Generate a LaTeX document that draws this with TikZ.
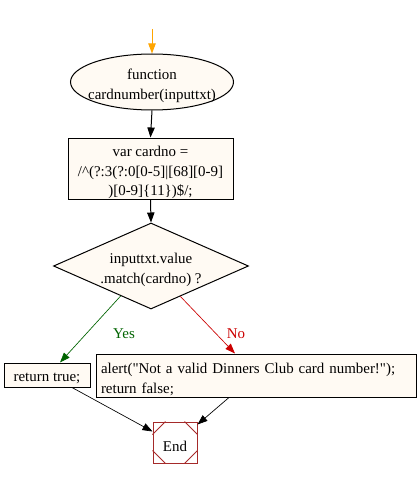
\documentclass[tikz,border=0pt]{standalone}
\usepackage{fontspec}
\setmainfont{Liberation Serif}[Ligatures=TeXOff]
\usetikzlibrary{shapes.geometric,arrows.meta,calc}
\definecolor{cream}{HTML}{FFFAF3}
\definecolor{endbrown}{HTML}{A52A2A}
\definecolor{yesgreen}{HTML}{006400}
\definecolor{nored}{HTML}{CC0000}
\definecolor{startorange}{HTML}{FFA500}
\newcommand{\pxl}[1]{#1*0.75pt}
\begin{document}
\begin{tikzpicture}[x=0.75pt,y=-0.75pt,
  every node/.style={font=\fontsize{11.2pt}{14.6pt}\selectfont, inner sep=0pt},
  basebox/.style={draw, fill=cream, line width=0.75pt},
  flow/.style={line width=0.75pt, -{Triangle[length=7.5pt,width=5.5pt]}},
  lbl/.style={font=\fontsize{11.2pt}{13pt}\selectfont}
]
\useasboundingbox (0,0) rectangle (417,478);
\fill[white] (0,0) rectangle (417,478);

\coordinate (start) at (152,29);
\node[basebox, ellipse, minimum width=\pxl{163}, minimum height=\pxl{56}] (func) at (152,82) {};
\node[align=center] (functext) at (152,86) {function\\cardnumber(inputtxt)};
\node[basebox, rectangle, minimum width=\pxl{165}, minimum height=\pxl{61}] (var) at (150.5,168.5) {};
\node[align=center] (vartext) at (150.5,172.5)
  {var cardno =\\/\textasciicircum(?:3(?:0[0-5]|[68][0-9]\\)[0-9]\{11\})\$/;};
\node[basebox, diamond, minimum width=\pxl{195}, minimum height=\pxl{86}] (dec) at (151,266) {};
\node[align=center] (dectext) at (151,270) {inputtxt.value\\.match(cardno) ?};
\node[basebox, rectangle, minimum width=\pxl{86}, minimum height=\pxl{24}] (rt) at (47,375) {};
\node (rttext) at (47,378) {return true;};
\node[basebox, rectangle, minimum width=\pxl{320}, minimum height=\pxl{43}] (alert) at (256,375.5) {};
\node[align=left, text width=\pxl{310}] (alerttext) at (256,379.5)
  {alert("Not a valid Dinners Club card number!");\\return false;};
\node[draw=endbrown, fill=white, line width=0.75pt, rectangle, minimum width=\pxl{44}, minimum height=\pxl{41}] (end) at (175,442.5) {};
\node (endtext) at (175,446) {End};
\draw[endbrown, line width=0.6pt]
  ($(end.north west)+(0,13)$) -- ($(end.north west)+(13,0)$)
  ($(end.north east)+(0,13)$) -- ($(end.north east)+(-13,0)$)
  ($(end.south west)+(0,-13)$) -- ($(end.south west)+(13,0)$)
  ($(end.south east)+(0,-13)$) -- ($(end.south east)+(-13,0)$);

\draw[flow, startorange] (start) -- (func.north);
\draw[flow] (func.south) -- (var.north);
\draw[flow] (var.south) -- (dec.north);
\draw[flow, yesgreen, line width=0.5pt] ($(dec.west)!0.69!(dec.south)$) -- ($(rt.north)+(13,0)$);
\draw[flow, nored, line width=0.5pt] ($(dec.south)!0.30!(dec.east)$) -- ($(alert.north)+(-21,0)$);
\node[lbl, text=yesgreen] (yes) at (124,334) {Yes};
\node[lbl, text=nored] (no) at (236,334) {No};
\draw[flow, line width=0.5pt] ($(rt.south)+(25,0)$) -- ($(end.north west)+(0,10)$);
\draw[flow, line width=0.5pt] ($(alert.south)+(-27,0)$) -- ($(end.north east)+(0,3)$);
\end{tikzpicture}
\end{document}
